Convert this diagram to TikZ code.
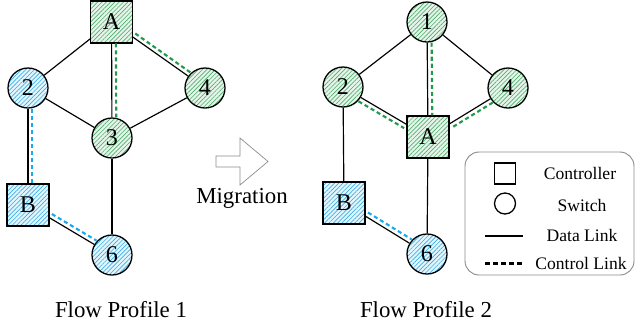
\documentclass[tikz,border=0pt]{standalone}
\usepackage{fontspec}
\setmainfont{Liberation Serif}
\usetikzlibrary{patterns.meta, positioning}
\definecolor{cgreen}{HTML}{1E9A4A}
\definecolor{cgreenhatch}{HTML}{4FAE6E}
\definecolor{cgreenfill}{HTML}{E6F4EA}
\definecolor{cblue}{HTML}{1AA9EC}
\definecolor{cbluehatch}{HTML}{3AAEE4}
\definecolor{cbluefill}{HTML}{E3F5FD}
\definecolor{cgrey}{HTML}{8C8C8C}
\tikzset{
  every picture/.style={line width=1pt},
  ctrlbox/.style={draw, rectangle, line width=1.1pt, minimum size=1.26cm, inner sep=0pt, font=\fontsize{20.5}{22}\selectfont},
  swcircle/.style={draw, circle, line width=1.1pt, minimum size=1.2cm, inner sep=0pt, font=\fontsize{20.5}{22}\selectfont},
  gzone/.style={preaction={fill=cgreenfill}, pattern={Lines[angle=45, distance=2.6pt, line width=0.55pt]}, pattern color=cgreenhatch},
  bzone/.style={preaction={fill=cbluefill}, pattern={Lines[angle=45, distance=2.6pt, line width=0.55pt]}, pattern color=cbluehatch},
  datalink/.style={draw=black, line width=1pt},
  ctrllink/.style={draw=#1, dash pattern=on 3.5pt off 2.5pt, line width=1.8pt},
  ctrllink/.default=black,
  caption/.style={font=\fontsize{19.5}{22}\selectfont},
  keytext/.style={font=\fontsize{15}{18}\selectfont},
}

\begin{document}
\begin{tikzpicture}[x=0.03cm, y=-0.03cm]
  \useasboundingbox (0,0) rectangle (636,328);
  % flow profile 1
  \node[ctrlbox, gzone] (lA) at (111.5,22) {A};
  \node[swcircle, bzone] (l2) at (28,88) {2};
  \node[swcircle, gzone] (l4) at (205,88) {4};
  \node[swcircle, gzone] (l3) at (112,138) {3};
  \node[ctrlbox, bzone] (lB) at (28,205) {B};
  \node[swcircle, bzone] (l6) at (112,255) {6};
  \draw[datalink] (lA) -- (l2); \draw[datalink] (lA) -- (l3); \draw[datalink] (lA) -- (l4);
  \draw[datalink] (l2) -- (l3); \draw[datalink] (l3) -- (l4); \draw[datalink] (l3) -- (l6);
  \draw[datalink] (l2) -- (lB); \draw[datalink] (lB) -- (l6);
  \draw[ctrllink=cgreen, transform canvas={xshift=3.7pt}] (lA) -- (l3);
  \draw[ctrllink=cgreen, transform canvas={shift={(2.1pt,3.0pt)}}] (lA) -- (l4);
  \draw[ctrllink=cblue, transform canvas={xshift=3.4pt}] (l2) -- (lB);
  \draw[ctrllink=cblue, transform canvas={shift={(1.9pt,3.3pt)}}] (lB) -- (l6);
  \node[caption] (cap1) at (121,310) {Flow Profile 1};
  % migration arrow
  \draw[cgrey, line width=0.6pt] (216,156) -- (240,156) -- (240,138) -- (268,161.5) -- (240,185) -- (240,167) -- (216,167) -- cycle;
  \node[caption] (mig) at (242,198) {Migration};
  % flow profile 2
  \node[swcircle, gzone] (r1) at (427,22) {1};
  \node[swcircle, gzone] (r2) at (343,87) {2};
  \node[swcircle, gzone] (r4) at (508,88) {4};
  \node[ctrlbox, gzone] (rA) at (428,137) {A};
  \node[ctrlbox, bzone] (rB) at (344,203) {B};
  \node[swcircle, bzone] (r6) at (427,254) {6};
  \draw[datalink] (r1) -- (r2); \draw[datalink] (r1) -- (r4); \draw[datalink] (r1) -- (rA);
  \draw[datalink] (r2) -- (rA); \draw[datalink] (r4) -- (rA); \draw[datalink] (rA) -- (r6);
  \draw[datalink] (r2) -- (rB); \draw[datalink] (rB) -- (r6);
  \draw[ctrllink=cgreen, transform canvas={xshift=3.8pt}] (r1) -- (rA);
  \draw[ctrllink=cgreen, transform canvas={shift={(-1.9pt,-3.3pt)}}] (r2) -- (rA);
  \draw[ctrllink=cgreen, transform canvas={shift={(2.0pt,-3.2pt)}}] (r4) -- (rA);
  \draw[ctrllink=cblue, transform canvas={shift={(2.0pt,3.2pt)}}] (rB) -- (r6);
  \node[caption] (cap2) at (426,310) {Flow Profile 2};
  % legend
  \draw[cgrey, line width=0.8pt, rounded corners=12pt] (465,152) rectangle (634,275);
  \node[draw, line width=1.1pt, minimum size=0.63cm, inner sep=0pt] (keyctrl) at (505,173.5) {};
  \node[keytext] (keyctrltxt) at (580,173) {Controller};
  \node[draw, circle, line width=1.1pt, minimum size=0.63cm, inner sep=0pt] (keysw) at (505,203.5) {};
  \node[keytext] (keyswtxt) at (582,205) {Switch};
  \coordinate (data1) at (485,236); \coordinate (data2) at (523,236);
  \draw[datalink] (data1) -- (data2);
  \node[keytext] (keydatatxt) at (582,235) {Data Link};
  \coordinate (ctrl1) at (485,263.5); \coordinate (ctrl2) at (523,263.5);
  \draw[ctrllink, dash pattern=on 4.5pt off 2.3pt] (ctrl1) -- (ctrl2);
  \node[keytext] (keyctrllinktxt) at (581,263) {Control Link};
\end{tikzpicture}
\end{document}
